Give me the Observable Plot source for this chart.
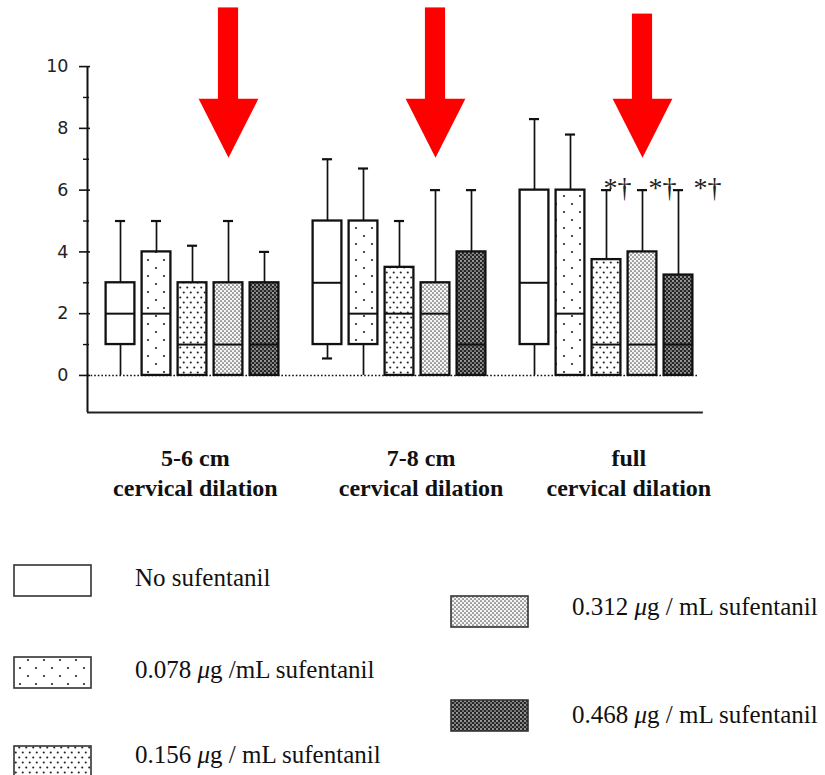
<!DOCTYPE html>
<html>
<head>
<meta charset="utf-8">
<script src="https://cdn.jsdelivr.net/npm/d3@7"></script>
<script src="https://cdn.jsdelivr.net/npm/@observablehq/plot@0.6"></script>
<style>
  body { margin: 0; background: #fff; }
  #chart svg, #legend svg { display: block; }
</style>
</head>
<body>
<svg width="0" height="0" style="position:absolute">
  <defs>
    <pattern id="pat0" width="8" height="8" patternUnits="userSpaceOnUse">
      <rect width="8" height="8" fill="#fff"/>
    </pattern>
    <pattern id="pat1" width="16" height="16" patternUnits="userSpaceOnUse">
      <rect width="16" height="16" fill="#fff"/>
      <circle cx="4" cy="4" r="1.1" fill="#222"/>
      <circle cx="12" cy="12" r="1.1" fill="#222"/>
    </pattern>
    <pattern id="pat2" width="7" height="10" patternUnits="userSpaceOnUse">
      <rect width="7" height="10" fill="#fff"/>
      <circle cx="1.75" cy="2.5" r="1.05" fill="#222"/>
      <circle cx="5.25" cy="7.5" r="1.05" fill="#222"/>
    </pattern>
    <pattern id="pat3" width="4" height="4" patternUnits="userSpaceOnUse">
      <rect width="4" height="4" fill="#f4f4f4"/>
      <circle cx="1" cy="1" r="0.85" fill="#555"/>
      <circle cx="3" cy="3" r="0.85" fill="#555"/>
    </pattern>
    <pattern id="pat4" width="4" height="4" patternUnits="userSpaceOnUse">
      <rect width="4" height="4" fill="#262626"/>
      <circle cx="1" cy="1" r="0.9" fill="#c8c8c8"/>
      <circle cx="3" cy="3" r="0.9" fill="#9a9a9a"/>
    </pattern>
  </defs>
</svg>
<div id="chart"></div>
<div id="legend"></div>
<script>
// ---------------- data ----------------
const groups = ["5-6 cm\ncervical dilation", "7-8 cm\ncervical dilation", "full\ncervical dilation"];
const series = [
  "No sufentanil",
  "0.078 μg /mL sufentanil",
  "0.156 μg / mL sufentanil",
  "0.312 μg / mL sufentanil",
  "0.468 μg / mL sufentanil"
];
const yTicks = [0, 2, 4, 6, 8, 10];
const yMinorTicks = [1, 3, 5, 7, 9];
// rows: groups, columns: series
const lowWhisker    = [[0, 0, 0, 0, 0], [0.55, 0, 0, 0, 0], [0, 0, 0, 0, 0]];
const lowerQuartile = [[1, 0, 0, 0, 0], [1, 1, 0, 0, 0],    [1, 0, 0, 0, 0]];
const medians       = [[2, 2, 1, 1, 1], [3, 2, 2, 2, 1],    [3, 2, 1, 1, 1]];
const upperQuartile = [[3, 4, 3, 3, 3], [5, 5, 3.5, 3, 4],  [6, 6, 3.75, 4, 3.25]];
const highWhisker   = [[5, 5, 4.2, 5, 4], [7, 6.7, 5, 6, 6], [8.3, 7.8, 6, 6, 6]];
const annotations = [
  {group: 2, series: 2, label: "*†"},
  {group: 2, series: 3, label: "*†"},
  {group: 2, series: 4, label: "*†"}
];
const arrows = [
  {group: 0, series: 3, tip: 7.05, tail: 11.9},
  {group: 1, series: 3, tip: 7.05, tail: 11.9},
  {group: 2, series: 3, tip: 7.05, tail: 11.7}
];

// ---------------- layout / style ----------------
const GROUP_STEP = 5.75;          // x units between groups
const XMIN = -0.917, XMAX = 16.25;
const YMIN = -1.2, YMAX = 12.14;
const HW = 0.4, CAP = 0.14;       // box half width, cap half width
const SHAFT = 0.28, HEAD = 0.83, HEAD_LEN = 1.91;
const patterns = ["url(#pat0)", "url(#pat1)", "url(#pat2)", "url(#pat3)", "url(#pat4)"];
const labelShift = [0.08, 0.6, 0.62];
const annShift = [-0.08, 0.17, 0.42];
const serif = "'Liberation Serif', 'Times New Roman', serif";
const sans = "'DejaVu Sans', sans-serif";

const pos = (g, s) => g * GROUP_STEP + s;

const rows = [];
groups.forEach((g, gi) => series.forEach((s, si) => rows.push({
  group: g, series: s, gi, si, pos: pos(gi, si), fill: patterns[si],
  min: lowWhisker[gi][si], q1: lowerQuartile[gi][si], med: medians[gi][si],
  q3: upperQuartile[gi][si], max: highWhisker[gi][si]
})));
const find = (gi, si) => rows.find(r => r.gi === gi && r.si === si);

const groupRows = groups.map((g, gi) => ({label: g, x: pos(gi, 2) + labelShift[gi]}));
const annRows = annotations.map((a, i) => ({label: a.label, x: find(a.group, a.series).pos + annShift[i], y: find(a.group, a.series).max}));
const shafts = arrows.map(a => ({x: pos(a.group, a.series), y1: a.tip + HEAD_LEN - 0.05, y2: a.tail}));
const heads = arrows.flatMap((a, i) => {
  const x = pos(a.group, a.series);
  return [
    {id: i, x: x - HEAD, y: a.tip + HEAD_LEN},
    {id: i, x: x + HEAD, y: a.tip + HEAD_LEN},
    {id: i, x: x, y: a.tip}
  ];
});

const upper = rows.filter(d => d.max > d.q3);
const lower = rows.filter(d => d.min < d.q1);

const chart = Plot.plot({
  width: 825, height: 520,
  marginLeft: 87, marginRight: 120, marginTop: 0, marginBottom: 108,
  x: {type: "linear", domain: [XMIN, XMAX], axis: null},
  y: {domain: [YMIN, YMAX], axis: null},
  color: {type: "identity"},
  style: {background: "white", color: "#111", overflow: "visible"},
  marks: [
    Plot.ruleY([0], {x1: XMIN, x2: 16.05, stroke: "#111", strokeWidth: 1.5, strokeDasharray: "1.6 2"}),
    Plot.ruleX([XMIN], {y1: YMIN, y2: 10, stroke: "#111", strokeWidth: 2}),
    Plot.ruleY([YMIN], {x1: XMIN, x2: 16.19, stroke: "#222", strokeWidth: 2}),
    Plot.axisY(yTicks, {tickSize: 11, dx: 3, tickFormat: () => "", stroke: "#111", strokeWidth: 1.6}),
    Plot.axisY(yMinorTicks, {tickSize: 6, dx: 2, tickFormat: () => "", stroke: "#111", strokeWidth: 1.4}),
    Plot.text(yTicks, {x: XMIN, y: d => d, text: d => String(d), textAnchor: "end", dx: -19, fontSize: 17.5, fontFamily: sans, fill: "#222"}),
    Plot.ruleX(upper, {x: "pos", y1: "q3", y2: "max", stroke: "#111", strokeWidth: 1.7}),
    Plot.ruleX(lower, {x: "pos", y1: "min", y2: "q1", stroke: "#111", strokeWidth: 1.7}),
    Plot.ruleY(upper, {y: "max", x1: d => d.pos - CAP, x2: d => d.pos + CAP, stroke: "#111", strokeWidth: 2.2}),
    Plot.ruleY(lower.filter(d => d.min > 0), {y: "min", x1: d => d.pos - CAP, x2: d => d.pos + CAP, stroke: "#111", strokeWidth: 2.2}),
    Plot.rect(rows, {x1: d => d.pos - HW, x2: d => d.pos + HW, y1: "q1", y2: "q3", fill: "fill", stroke: "#111", strokeWidth: 2.3}),
    Plot.ruleY(rows, {y: "med", x1: d => d.pos - HW, x2: d => d.pos + HW, stroke: "#111", strokeWidth: 2}),
    Plot.rect(shafts, {x1: d => d.x - SHAFT, x2: d => d.x + SHAFT, y1: "y1", y2: "y2", fill: "#ff0000"}),
    Plot.line(heads, {x: "x", y: "y", z: "id", fill: "#ff0000", stroke: "none"}),
    Plot.text(annRows, {x: "x", y: "y", text: "label", textAnchor: "start", lineAnchor: "bottom", dy: 7, fontSize: 28, fontFamily: serif, fill: "#222"}),
    Plot.text(groupRows, {x: "x", y: YMIN, text: "label", textAnchor: "middle", lineAnchor: "bottom", lineHeight: 1.25, dy: 83, fontSize: 24, fontWeight: "bold", fontFamily: serif, fill: "#111", ariaLabel: "group-labels"})
  ]
});
d3.select(chart).selectAll('g[aria-label="group-labels"] text').style("letter-spacing", "1.4px");
document.getElementById("chart").appendChild(chart);

// ---------------- legend ----------------
const legendPlaces = [
  {x: 14, y: 45, tx: 135, ty: 66},
  {x: 14, y: 137, tx: 135, ty: 158},
  {x: 14, y: 226, tx: 135, ty: 243},
  {x: 451, y: 76, tx: 572, ty: 95},
  {x: 451, y: 180, tx: 572, ty: 203}
];
const leg = d3.select("#legend").append("svg").attr("width", 825).attr("height", 255);
series.forEach((s, i) => {
  const p = legendPlaces[i];
  leg.append("rect").attr("x", p.x).attr("y", p.y).attr("width", 77).attr("height", 31)
    .attr("fill", patterns[i]).attr("stroke", "#333").attr("stroke-width", 1.6);
  const t = leg.append("text").attr("x", p.tx).attr("y", p.ty)
    .attr("font-family", serif).attr("font-size", 25).attr("fill", "#111");
  const parts = s.split("μ");
  t.append("tspan").text(parts[0]);
  if (parts.length > 1) {
    t.append("tspan").attr("font-style", "italic").text("μ");
    t.append("tspan").text(parts[1]);
  }
});
</script>
</body>
</html>
